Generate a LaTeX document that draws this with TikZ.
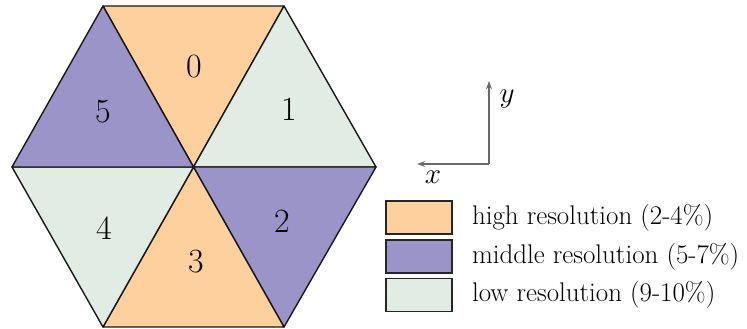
\documentclass[tikz,border=0pt]{standalone}
\usepackage{xcolor}
\usetikzlibrary{positioning, arrows.meta}
\definecolor{highorange}{RGB}{253,208,158}
\definecolor{midpurple}{RGB}{154,148,200}
\definecolor{lowgreen}{RGB}{224,236,228}
\definecolor{axisgrey}{RGB}{105,105,105}

\begin{document}
\begin{tikzpicture}[
    x=0.03cm, y=-0.03cm,
    sector/.style={draw=black!90, line width=1.2pt, line join=round},
    sector label/.style={font=\fontsize{29}{34}\selectfont, inner sep=0pt},
    key box/.style={rectangle, draw=black!85, line width=1.4pt, inner sep=0pt,
                    minimum width=1.98cm, minimum height=0.99cm},
    key text/.style={font=\fontsize{23}{27}\selectfont, inner sep=0pt, anchor=west},
    axis arr/.style={-{Stealth[length=7pt,width=5pt]}, axisgrey, line width=1pt},
  ]
  \useasboundingbox (0,0) rectangle (747,328);

  % ============ HEXAGON CORNERS ============
  \coordinate (hc) at (193.5,167);
  \coordinate (ha) at (103,6);
  \coordinate (hb) at (284,6);
  \coordinate (hr) at (376,167);
  \coordinate (hd) at (284,327);
  \coordinate (he) at (103,327);
  \coordinate (hl) at (12,167);

  % ============ SIX SECTORS ============
  \filldraw[sector, fill=highorange] (hc) -- (ha) -- (hb) -- cycle;
  \filldraw[sector, fill=lowgreen]   (hc) -- (hb) -- (hr) -- cycle;
  \filldraw[sector, fill=midpurple]  (hc) -- (hr) -- (hd) -- cycle;
  \filldraw[sector, fill=highorange] (hc) -- (hd) -- (he) -- cycle;
  \filldraw[sector, fill=lowgreen]   (hc) -- (he) -- (hl) -- cycle;
  \filldraw[sector, fill=midpurple]  (hc) -- (hl) -- (ha) -- cycle;

  % sector numbers
  \node[sector label] (s0) at (194,67)  {0};
  \node[sector label] (s1) at (289,109) {1};
  \node[sector label] (s2) at (282,221) {2};
  \node[sector label] (s3) at (196,262) {3};
  \node[sector label] (s4) at (104,228) {4};
  \node[sector label] (s5) at (103,112) {5};

  % ============ AXES ============
  \coordinate (orig) at (489,164);
  \coordinate (ytip) at (489,81);
  \coordinate (xtip) at (417,164);
  \draw[axis arr] (orig) -- (ytip);
  \draw[axis arr] (orig) -- (xtip);
  \node[key text, anchor=center] (ylab) at (507,99)  {$y$};
  \node[key text, anchor=center] (xlab) at (433,177) {$x$};

  % ============ LEGEND ============
  \node[key box, fill=highorange] (khigh) at (419,217.5) {};
  \node[key box, fill=midpurple]  (kmid)  at (419,256.5) {};
  \node[key box, fill=lowgreen]   (klow)  at (419,295)   {};

  \node[key text, right=0.57cm of khigh] (thigh) {high resolution (2-4\%)};
  \node[key text, right=0.57cm of kmid]  (tmid)  {middle resolution (5-7\%)};
  \node[key text, right=0.57cm of klow]  (tlow)  {low resolution (9-10\%)};

\end{tikzpicture}
\end{document}
